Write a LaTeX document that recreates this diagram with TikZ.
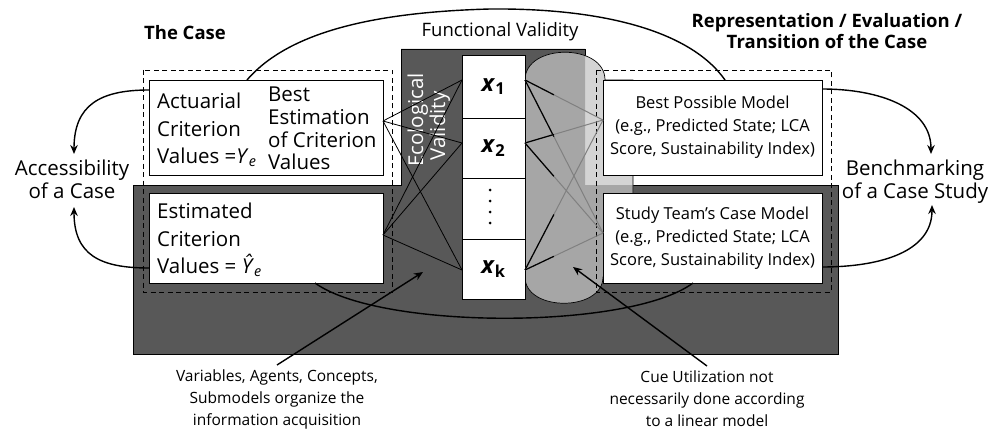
\documentclass[tikz,border=0pt]{standalone}
\usepackage{fontspec}
\setmainfont{Open Sans}
\usetikzlibrary{arrows.meta,calc}
\definecolor{darkg}{RGB}{88,88,88}
\definecolor{medg}{RGB}{166,166,166}
\definecolor{lightg}{RGB}{212,212,212}
\definecolor{lineg}{RGB}{128,128,128}
\newcommand\xlab[1]{\textbf{\textit{x}\textsubscript{#1}}}
\begin{document}
\begin{tikzpicture}[x=1pt,y=-1pt,
  box/.style={draw=black,line width=0.9pt,fill=white,anchor=north west,inner sep=0pt,outer sep=0pt},
  bigtext/.style={font=\fontsize{20.5}{22.5}\selectfont,align=center,inner sep=0pt},
  boxtext/.style={font=\fontsize{20.5}{27.5}\selectfont,align=left,inner sep=0pt,anchor=north west},
  modeltext/.style={font=\fontsize{16.5}{23}\selectfont,align=center},
  xtext/.style={font=\fontsize{23.5}{23.5}\selectfont},
  ecotext/.style={font=\fontsize{20.5}{22}\selectfont,text=white,rotate=90,anchor=base,inner sep=0pt},
  title/.style={font=\fontsize{18.5}{21}\selectfont\bfseries,align=center,inner sep=0pt},
  note/.style={font=\fontsize{15.5}{22}\selectfont,align=center,inner sep=0pt},
  dashbox/.style={draw=black,line width=0.8pt,dash pattern=on 5pt off 3.5pt},
  thinline/.style={draw=black,line width=0.8pt},
  grayline/.style={draw=lineg,line width=1pt},
  blkline/.style={draw=black,line width=1.2pt},
  curve/.style={draw=black,line width=1.4pt},
  arr/.style={curve,-{Stealth[length=9pt,width=7.5pt]}},
]
\useasboundingbox (0,0) rectangle (1001,433);
\def\darkpath{(133,185) -- (401,185) -- (401,49) -- (585,49) -- (585,185) -- (838,185) -- (838,354) -- (133,354) -- cycle}
\def\lenspath{(525,80) .. controls (525,43) and (605,43) .. (605,80) -- (633,80) -- (633,277) -- (603,277) .. controls (603,312) and (525,312) .. (525,277) -- cycle}
\path[fill=darkg,draw=black,line width=0.8pt] \darkpath;
\fill[lightg] \lenspath;
\begin{scope}
\clip \darkpath;
\fill[medg] \lenspath;
\end{scope}
\draw[black,line width=0.7pt] \lenspath;

\draw[dashbox] (143,70) rectangle (392,292);
\draw[dashbox] (596,70) rectangle (831,292);

% boxes
\node[box,minimum width=234pt,minimum height=95pt] (act) at (149,80) {};
\node[box,minimum width=234pt,minimum height=90pt] (est) at (149,193) {};
\node[box,minimum width=219pt,minimum height=95pt,modeltext] (bpm) at (603,80) {Best Possible Model\\(e.g., Predicted State; LCA\\Score, Sustainability Index)};
\node[box,minimum width=219pt,minimum height=90pt,modeltext] (stm) at (603,193) {Study Team's Case Model\\(e.g., Predicted State; LCA\\Score, Sustainability Index)};
\node[box,minimum width=63pt,minimum height=63pt,xtext] (x1) at (462,55) {\xlab{1}};
\node[box,minimum width=63pt,minimum height=60pt,xtext] (x2) at (462,118) {\xlab{2}};
\node[box,minimum width=63pt,minimum height=61pt] (xd) at (462,178) {};
\node[box,minimum width=63pt,minimum height=60pt,xtext] (xk) at (462,239) {\xlab{k}};
\foreach \y in {190,201,212,223} \fill (490,\y) circle (1.5);

% texts in left boxes
\node[boxtext] (actL) at (157,93) {Actuarial\\Criterion\\Values =\textit{Y}\textsubscript{\textit{e}}};
\node[boxtext,font=\fontsize{20.5}{22.7}\selectfont] (actR) at (268,87) {Best\\Estimation\\of Criterion\\Values};
\node[boxtext] (estL) at (157,203) {Estimated\\Criterion\\Values = \textit{Ŷ}\textsubscript{\textit{e}}};

% titles and labels
\node[title,anchor=base] (case) at (185,40) {The Case};
\node[title,anchor=north] (rep) at (827,13) {Representation / Evaluation /\\Transition of the Case};
\node[bigtext,font=\fontsize{18.5}{20}\selectfont,anchor=base] (fv) at (500,37) {Functional Validity};
\node[bigtext,anchor=north] (acc) at (72,160) {Accessibility\\of a Case};
\node[bigtext,anchor=north] (bench) at (915,160) {Benchmarking\\of a Case Study};
\node[note,anchor=north] (vac) at (277,370) {Variables, Agents, Concepts,\\Submodels organize the\\information acquisition};
\node[note,anchor=north] (cue) at (707,371) {Cue Utilization not\\necessarily done according\\to a linear model};
\node[ecotext] (eco1) at (423,120) {Ecological};
\node[ecotext] (eco2) at (445,126) {Validity};

% connection points
\coordinate (bestR) at (383,121);
\coordinate (estR) at (383,235);
\coordinate (x1L) at (462,80);
\coordinate (x2L) at (462,143);
\coordinate (xkL) at (462,270);
\coordinate (x1R) at (525,80);
\coordinate (x2R) at (525,143);
\coordinate (xkR) at (525,270);
\coordinate (bpmL) at (603,120);
\coordinate (stmL) at (603,233);

\foreach \a in {bestR,estR} \foreach \b in {x1L,x2L,xkL} \draw[thinline] (\a) -- (\b);
\foreach \a in {x1R,x2R,xkR} \foreach \b in {bpmL,stmL} {
  \draw[grayline] (\a) -- (\b);
  \draw[blkline] (\a) -- ($(\a)!0.37!(\b)$);
}

% big arcs
\coordinate (fvS) at (247,80);
\coordinate (fvE) at (725,80);
\draw[curve] (fvS) .. controls (290,30) and (380,12) .. (490,9) .. controls (600,8) and (690,30) .. (fvE);
\coordinate (estB) at (315,283);
\coordinate (stmB) at (693,283);
\draw[curve] (estB) .. controls (380,330) and (630,330) .. (stmB);

% side arrows
\coordinate (actW) at (149,90);
\coordinate (accTop) at (74,154);
\draw[arr] (actW) .. controls (100,90) and (74,105) .. (accTop);
\coordinate (estW) at (149,268);
\coordinate (accBot) at (74,207);
\draw[arr] (estW) .. controls (100,268) and (74,255) .. (accBot);
\coordinate (bpmE) at (822,89);
\coordinate (benTop) at (931,154);
\draw[arr] (bpmE) .. controls (880,89) and (931,108) .. (benTop);
\coordinate (stmE) at (822,267);
\coordinate (benBot) at (932,205);
\draw[arr] (stmE) .. controls (880,267) and (932,252) .. (benBot);

% annotation arrows
\coordinate (vacTip) at (423,272);
\draw[arr] ([yshift=5pt]vac.north) -- (vacTip);
\coordinate (cueTip) at (573,267);
\draw[arr] ([yshift=5pt]cue.north) -- (cueTip);
\end{tikzpicture}
\end{document}
